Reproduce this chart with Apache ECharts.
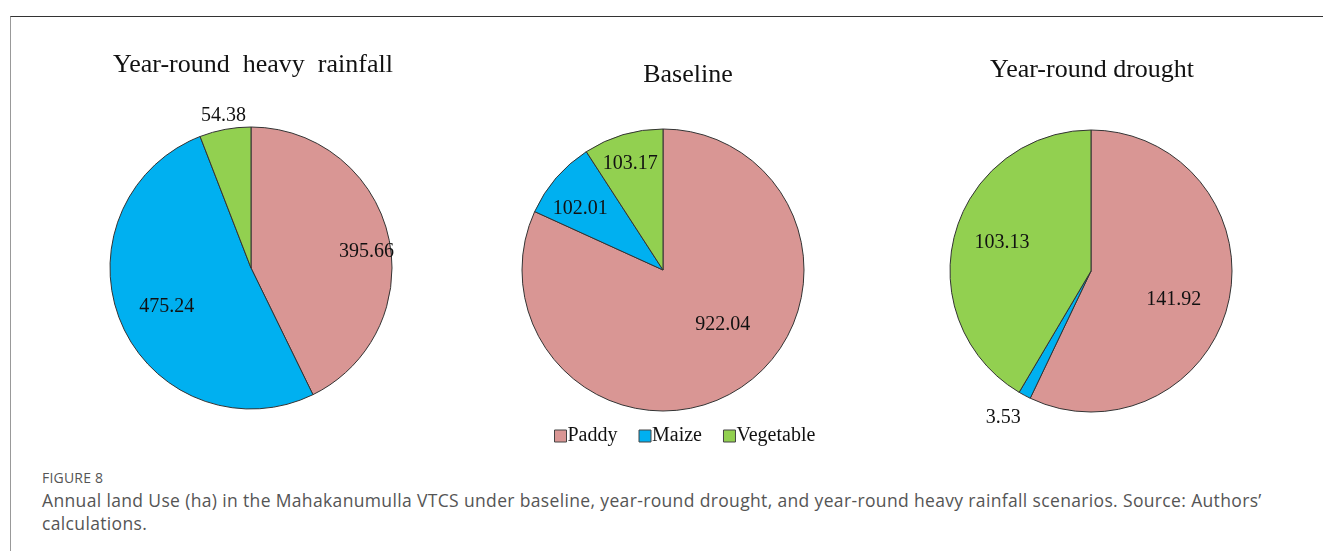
<!DOCTYPE html>
<html>
<head>
<meta charset="utf-8">
<script src="https://cdn.jsdelivr.net/npm/echarts@6/dist/echarts.min.js"></script>
<style>
  html, body { margin: 0; padding: 0; background: #fff; }
  #wrap { position: relative; width: 1323px; height: 551px; overflow: hidden; }
  #frame { position: absolute; left: 10px; top: 16px; width: 1330px; height: 560px;
           border-top: 1.5px solid #333; border-left: 1.5px solid #999; }
  #chart { position: absolute; left: 0; top: 0; width: 1323px; height: 460px; }
  #cap { position: absolute; left: 42px; top: 468px; font-family: "Open Sans", sans-serif; color: #555; }
  #cap .fig { font-size: 14px; letter-spacing: 0.2px; margin-bottom: 2px; }
  #cap .txt { font-size: 17.5px; line-height: 23px; letter-spacing: 0.35px; color: #555; }
</style>
</head>
<body>
<div id="wrap">
  <div id="frame"></div>
  <div id="chart"></div>
  <div id="cap">
    <div class="fig">FIGURE 8</div>
    <div class="txt">Annual land Use (ha) in the Mahakanumulla VTCS under baseline, year-round drought, and year-round heavy rainfall scenarios. Source: Authors’<br>calculations.</div>
  </div>
</div>
<script>
// 数据
var crops = ['Paddy', 'Maize', 'Vegetable'];
var scenarios = ['Year-round  heavy  rainfall', 'Baseline', 'Year-round drought'];
var rainfallValues = [395.66, 475.24, 54.38];
var baselineValues = [922.04, 102.01, 103.17];
var droughtValues = [141.92, 3.53, 103.13];

var colors = ['#D99694', '#00B0F0', '#92D050'];
var myChart = echarts.init(document.getElementById('chart'));

// 每个饼图的位置和标签偏移
var centers = [[251, 268], [663, 270], [1091, 271]];
var titlePos = [[248, 47], [683, 57], [1087, 52]];
var labelSetup = [
  [{pos: 'inside', off: [44, 0]}, {pos: 'inside', off: [-17, 9]}, {pos: 'outside', off: [27, -8]}],
  [{pos: 'inside', off: [20, -7]}, {pos: 'inside', off: [-27, -13]}, {pos: 'inside', off: [-12, -36]}],
  [{pos: 'inside', off: [11, 13]}, {pos: 'outside', off: [4, 17]}, {pos: 'inside', off: [-18, -9]}]
];
var allValues = [rainfallValues, baselineValues, droughtValues];

var series = allValues.map(function (vals, k) {
  return {
    name: scenarios[k],
    type: 'pie',
    radius: 141,
    center: centers[k],
    startAngle: 90,
    clockwise: true,
    animation: false,
    silent: true,
    labelLine: { show: false, length: 6, length2: 0 },
    itemStyle: { borderColor: '#333', borderWidth: 1 },
    data: vals.map(function (v, i) {
      return {
        name: crops[i],
        value: v,
        itemStyle: { color: colors[i] },
        label: {
          show: true,
          position: labelSetup[k][i].pos,
          offset: labelSetup[k][i].off,
          formatter: v.toFixed(2),
          color: '#111',
          fontFamily: 'Liberation Serif',
          fontSize: 20
        }
      };
    })
  };
});

var option = {
  color: colors,
  title: scenarios.map(function (s, k) {
    return {
      text: s,
      left: titlePos[k][0],
      top: titlePos[k][1],
      textAlign: 'center',
      textStyle: { fontFamily: 'Liberation Serif', fontWeight: 'normal', fontSize: 26, color: '#111' }
    };
  }),
  legend: {
    data: crops,
    left: 549,
    top: 421,
    itemWidth: 12,
    itemHeight: 12,
    itemGap: 21,
    icon: 'rect',
    itemStyle: { borderColor: '#444', borderWidth: 1 },
    textStyle: { fontFamily: 'Liberation Serif', fontSize: 20, color: '#111', padding: [0, 0, 0, -4] },
    selectedMode: false
  },
  series: series
};

myChart.setOption(option);
</script>
</body>
</html>
